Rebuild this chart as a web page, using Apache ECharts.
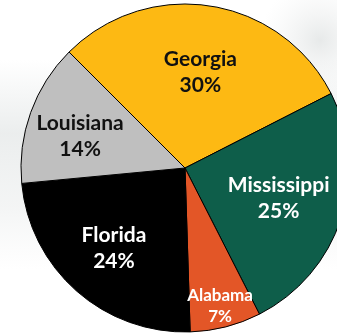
<!DOCTYPE html>
<html>
<head>
<meta charset="utf-8">
<script src="https://cdn.jsdelivr.net/npm/echarts@6/dist/echarts.min.js"></script>
<style>
  html, body { margin: 0; padding: 0; background: #ffffff; }
  #chart { width: 337px; height: 333px; }
</style>
</head>
<body>
<div id="chart"></div>
<script>
// Share of total by state
const states = ['Georgia', 'Mississippi', 'Alabama', 'Florida', 'Louisiana'];
const shares = [30, 25, 7, 24, 14];

// Slice styling
const sliceColors = ['#FDB913', '#0E5E4A', '#E35627', '#000000', '#BFBFBF'];
const labelColors = ['#111111', '#ffffff', '#ffffff', '#ffffff', '#111111'];
const labelSizes = [21, 21, 17, 21, 21];
const labelLineHeights = [26, 26, 21, 26, 26];
// radial placement of each label as a fraction of the radius, plus a small vertical nudge
const labelRadius = [0.60, 0.60, 0.86, 0.655, 0.68];
const labelShiftY = [1, 0, 1, 0, 6];

const CENTER = [185, 168];
const RADIUS = 164;
const START_ANGLE = 135;

const chart = echarts.init(document.getElementById('chart'), null, { renderer: 'canvas' });

const total = shares.reduce((a, b) => a + b, 0);
// mid angle (degrees, counter-clockwise from +x) of each clockwise slice
const midAngles = [];
let acc = 0;
shares.forEach(v => {
  midAngles.push(START_ANGLE - (acc + v / 2) / total * 360);
  acc += v;
});

const data = states.map((name, i) => ({
  name: name,
  value: shares[i],
  itemStyle: { color: sliceColors[i] },
  label: {
    color: labelColors[i],
    fontSize: labelSizes[i],
    lineHeight: labelLineHeights[i]
  }
}));

chart.setOption({
  animation: false,
  backgroundColor: '#ffffff',
  graphic: [
    {
      type: 'rect',
      silent: true,
      z: -10,
      shape: { x: 0, y: 60, width: 337, height: 210 },
      style: {
        fill: {
          type: 'linear', x: 0, y: 0, x2: 0, y2: 1,
          colorStops: [
            { offset: 0, color: 'rgba(230,233,233,0)' },
            { offset: 0.35, color: 'rgba(230,233,233,0.8)' },
            { offset: 0.7, color: 'rgba(236,238,238,0.6)' },
            { offset: 1, color: 'rgba(240,241,241,0)' }
          ]
        }
      }
    },
    {
      type: 'circle',
      silent: true,
      z: -10,
      shape: { cx: 320, cy: 40, r: 60 },
      style: {
        fill: {
          type: 'radial', x: 0.5, y: 0.5, r: 0.5,
          colorStops: [
            { offset: 0, color: 'rgba(225,228,228,0.8)' },
            { offset: 1, color: 'rgba(240,241,241,0)' }
          ]
        }
      }
    }
  ],
  series: [{
    type: 'pie',
    center: CENTER,
    radius: RADIUS,
    startAngle: START_ANGLE,
    clockwise: true,
    avoidLabelOverlap: false,
    itemStyle: { borderColor: '#000000', borderWidth: 1 },
    label: {
      show: true,
      position: 'inside',
      fontFamily: 'Lato',
      fontWeight: 'bold',
      align: 'center',
      verticalAlign: 'middle',
      formatter: '{b}\n{c}%'
    },
    labelLine: { show: false },
    emphasis: { disabled: true },
    labelLayout: function (params) {
      const i = params.dataIndex;
      const a = midAngles[i] * Math.PI / 180;
      const r = labelRadius[i] * RADIUS;
      return {
        x: CENTER[0] + r * Math.cos(a),
        y: CENTER[1] - r * Math.sin(a) + labelShiftY[i],
        align: 'center',
        verticalAlign: 'middle'
      };
    },
    data: data
  }]
});
</script>
</body>
</html>
